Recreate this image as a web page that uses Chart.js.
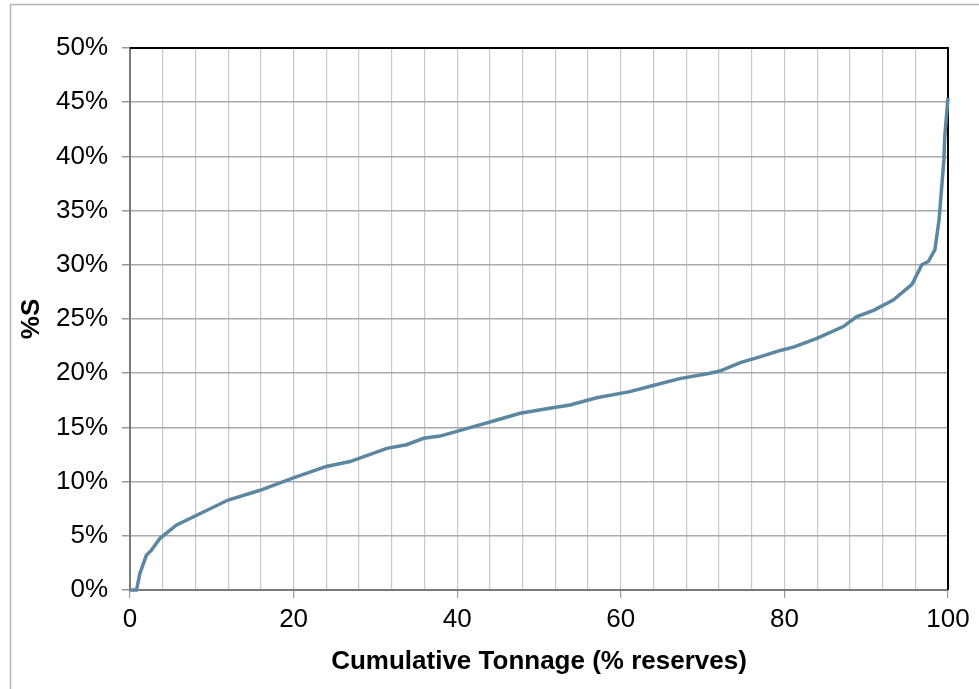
<!DOCTYPE html>
<html>
<head>
<meta charset="utf-8">
<script src="https://cdn.jsdelivr.net/npm/chart.js@4.4.0/dist/chart.umd.min.js"></script>
<style>
  html, body { margin: 0; padding: 0; background: #fff; }
  #wrap { width: 979px; height: 689px; position: relative; }
</style>
</head>
<body>
<div id="wrap"><canvas id="sulfurChart" width="979" height="689"></canvas></div>
<script>
// Cumulative tonnage (% of reserves) vs %S
var tonnage = [0, 0.8, 1.2, 2.0, 2.65, 3.67, 5.7, 8.15, 12.0, 15.9, 19.8, 24.0, 26.9, 31.4, 33.8, 35.9,
    37.9, 42.0, 44.0, 47.7, 51.3, 53.8, 57.05, 61.1, 63.6, 67.2, 70.9, 72.1, 74.6, 77.0, 79.5, 81.1,
    83.9, 87.2, 88.8, 90.9, 93.3, 95.6, 96.8, 97.6, 98.4, 98.9, 99.2, 99.5, 99.6, 100];
var sulfur = [0, 0, 1.5, 3.2, 3.7, 4.77, 6.0, 6.9, 8.3, 9.2, 10.3, 11.4, 11.85, 13.07, 13.4, 14.0,
    14.2, 15.07, 15.5, 16.3, 16.76, 17.07, 17.74, 18.3, 18.8, 19.5, 20.0, 20.2, 20.97, 21.5, 22.1, 22.4,
    23.2, 24.3, 25.2, 25.8, 26.75, 28.2, 30.0, 30.3, 31.4, 34.1, 36.9, 39.7, 41.8, 45.4];
var xLabels = [0, 20, 40, 60, 80, 100];

var points = tonnage.map(function (t, i) { return { x: t, y: sulfur[i] }; });

// outer frame + black top/right edges of the plot area
var framePlugin = {
    id: "frame",
    beforeDraw: function (chart) {
        var ctx = chart.ctx;
        ctx.save();
        ctx.fillStyle = "#fff";
        ctx.fillRect(0, 0, chart.width, chart.height);
        ctx.strokeStyle = "#b4b4b4";
        ctx.lineWidth = 1.5;
        ctx.strokeRect(10.5, 4.5, 1000, 720);
        ctx.restore();
    },
    beforeDatasetsDraw: function (chart) {
        var a = chart.chartArea, ctx = chart.ctx;
        ctx.save();
        ctx.strokeStyle = "#000";
        ctx.lineWidth = 2;
        ctx.beginPath();
        ctx.moveTo(a.left, a.top);
        ctx.lineTo(a.right, a.top);
        ctx.lineTo(a.right, a.bottom);
        ctx.stroke();
        ctx.restore();
    }
};

var ctx = document.getElementById("sulfurChart").getContext("2d");
new Chart(ctx, {
    type: "line",
    data: {
        datasets: [{
            data: points,
            borderColor: "#5b87a0",
            borderWidth: 3.5,
            pointRadius: 0,
            tension: 0,
            fill: false,
            clip: 6
        }]
    },
    options: {
        responsive: false,
        animation: false,
        layout: { padding: { top: 48, right: 31, left: 0, bottom: 0 } },
        plugins: { legend: { display: false }, tooltip: { enabled: false } },
        scales: {
            x: {
                type: "linear",
                min: 0,
                max: 100,
                afterFit: function (s) { s.height = 99; },
                ticks: {
                    stepSize: 4,
                    autoSkip: false,
                    maxRotation: 0,
                    padding: 6,
                    color: "#000",
                    font: { family: "Liberation Sans", size: 26 },
                    callback: function (v) { return xLabels.indexOf(v) >= 0 ? String(v) : ""; }
                },
                grid: {
                    color: "#c8c8c8",
                    lineWidth: 1.2,
                    tickLength: 8,
                    tickColor: function (c) { return xLabels.indexOf(c.tick.value) >= 0 ? "#999" : "rgba(0,0,0,0)"; }
                },
                border: { color: "#7a7a7a", width: 2 },
                title: {
                    display: true,
                    text: "Cumulative Tonnage (% reserves)",
                    color: "#000",
                    font: { family: "Liberation Sans", size: 26, weight: "bold" },
                    padding: { top: 0, bottom: 12 }
                }
            },
            y: {
                min: 0,
                max: 50,
                afterFit: function (s) { s.width = 130; },
                ticks: {
                    stepSize: 5,
                    padding: 14,
                    color: "#000",
                    font: { family: "Liberation Sans", size: 26 },
                    callback: function (v) { return v + "%"; }
                },
                grid: { color: "#aaaaaa", lineWidth: 1.5, tickLength: 8, tickColor: "#999" },
                border: { color: "#7a7a7a", width: 2 },
                title: {
                    display: true,
                    text: "%S",
                    color: "#000",
                    font: { family: "Liberation Sans", size: 26, weight: "bold" },
                    padding: { top: 16, bottom: 0 }
                }
            }
        }
    },
    plugins: [framePlugin]
});
</script>
</body>
</html>
